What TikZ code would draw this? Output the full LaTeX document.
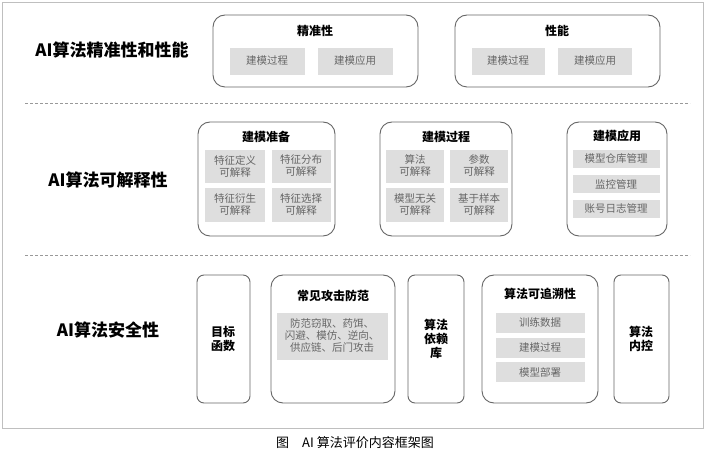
\documentclass[tikz,border=0pt]{standalone}
\usepackage{fontspec}
\setmainfont{Noto Sans CJK SC}
\begin{document}
\begin{tikzpicture}[x=1pt,y=-1pt,
  outer/.style={draw=black!60,line width=0.9pt,rounded corners=12pt},
  inner/.style={fill=black!13,draw=none},
  itxt/.style={font=\fontsize{10.5}{12}\selectfont,text=black!60,align=center},
  ttl/.style={font=\fontsize{12}{14}\selectfont\bfseries,align=center},
  lab/.style={font=\fontsize{17}{20}\selectfont\bfseries},
  sep/.style={densely dashed,draw=black!40}]
\useasboundingbox (0,0) rectangle (705,465);
\draw[draw=black!25] (2,2) rectangle (703,428);
\draw[sep] (25,103) -- (690,103);
\draw[sep] (25,255) -- (690,255);
% row 1
\node[lab] (l1) at (112,50) {AI算法精准性和性能};
\draw[outer] (213,15) rectangle (418,87);
\node[ttl] (t11) at (315,31) {精准性};
\fill[inner] (230,48) rectangle (305,75); \node[itxt] (a1) at (267,61) {建模过程};
\fill[inner] (318,48) rectangle (393,75); \node[itxt] (a2) at (355,61) {建模应用};
\draw[outer] (455,15) rectangle (660,87);
\node[ttl] (t12) at (557,31) {性能};
\fill[inner] (472,48) rectangle (545,75); \node[itxt] (a3) at (508,61) {建模过程};
\fill[inner] (558,48) rectangle (632,75); \node[itxt] (a4) at (595,61) {建模应用};
% row 2
\node[lab] (l2) at (108,180) {AI算法可解释性};
\draw[outer] (198,122) rectangle (335,236);
\node[ttl] (t21) at (266,137) {建模准备};
\fill[inner] (205,150) rectangle (265,183); \node[itxt] (b1) at (235,166) {特征定义\\可解释};
\fill[inner] (272,150) rectangle (331,183); \node[itxt] (b2) at (301,166) {特征分布\\可解释};
\fill[inner] (205,188) rectangle (265,222); \node[itxt] (b3) at (235,205) {特征衍生\\可解释};
\fill[inner] (272,188) rectangle (331,222); \node[itxt] (b4) at (301,205) {特征选择\\可解释};
\draw[outer] (380,122) rectangle (512,236);
\node[ttl] (t22) at (446,137) {建模过程};
\fill[inner] (386,150) rectangle (444,183); \node[itxt] (c1) at (415,166) {算法\\可解释};
\fill[inner] (450,150) rectangle (508,183); \node[itxt] (c2) at (479,166) {参数\\可解释};
\fill[inner] (386,188) rectangle (444,222); \node[itxt] (c3) at (415,205) {模型无关\\可解释};
\fill[inner] (450,188) rectangle (508,222); \node[itxt] (c4) at (479,205) {基于样本\\可解释};
\draw[outer] (567,122) rectangle (667,236);
\node[ttl] (t23) at (617,136) {建模应用};
\fill[inner] (573,150) rectangle (660,168); \node[itxt] (d1) at (616,159) {模型仓库管理};
\fill[inner] (573,175) rectangle (660,193); \node[itxt] (d2) at (616,184) {监控管理};
\fill[inner] (573,200) rectangle (660,218); \node[itxt] (d3) at (616,209) {账号日志管理};
% row 3
\node[lab] (l3) at (108,330) {AI算法安全性};
\draw[outer,rounded corners=7pt] (197,275) rectangle (250,403);
\node[ttl] (e1) at (223,339) {目标\\函数};
\draw[outer] (271,275) rectangle (395,403);
\node[ttl] (t31) at (333,296) {常见攻击防范};
\fill[inner] (277,313) rectangle (388,360);
\node[itxt] (e2) at (332,336) {防范窃取、药饵、\\闪避、模仿、逆向、\\供应链、后门攻击};
\draw[outer,rounded corners=7pt] (408,275) rectangle (464,403);
\node[ttl] (e3) at (436,339) {算法\\依赖\\库};
\draw[outer] (482,275) rectangle (598,403);
\node[ttl] (t32) at (540,294) {算法可追溯性};
\fill[inner] (496,313) rectangle (585,333); \node[itxt] (f1) at (540,323) {训练数据};
\fill[inner] (496,338) rectangle (585,358); \node[itxt] (f2) at (540,348) {建模过程};
\fill[inner] (496,362) rectangle (585,382); \node[itxt] (f3) at (540,372) {模型部署};
\draw[outer,rounded corners=7pt] (614,275) rectangle (669,403);
\node[ttl] (e4) at (641,339) {算法\\内控};
\node[font=\fontsize{13}{15}\selectfont] (cap) at (355,443) {图\quad AI 算法评价内容框架图};
\end{tikzpicture}
\end{document}
